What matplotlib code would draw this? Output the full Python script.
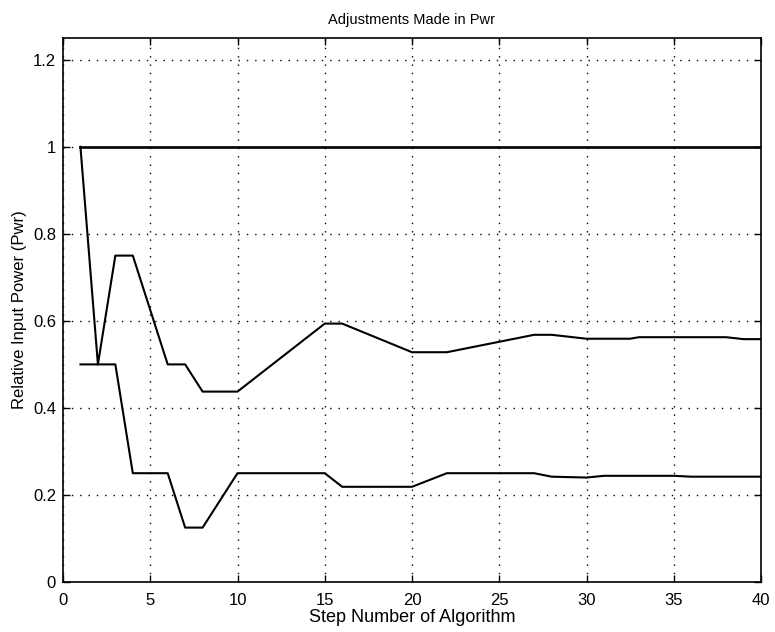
import matplotlib
matplotlib.use("Agg")
import matplotlib.pyplot as plt

plt.rcParams['font.family'] = ['Liberation Sans', 'DejaVu Sans']

# Data (breakpoints)
top_x = [1, 40]
top_y = [1.0, 1.0]

mid_x = [1, 2, 3, 4, 6, 7, 8, 10, 15, 16, 20, 22, 27, 28, 30, 32.5, 33, 38, 39, 40]
mid_y = [1.0, 0.5, 0.75, 0.75, 0.5, 0.5, 0.4375, 0.4375, 0.59375, 0.59375,
         0.528, 0.528, 0.568, 0.568, 0.559, 0.559, 0.5625, 0.5625, 0.558, 0.558]

low_x = [1, 3, 4, 6, 7, 8, 10, 15, 16, 20, 22, 27, 28, 30, 31, 35, 36, 40]
low_y = [0.5, 0.5, 0.25, 0.25, 0.125, 0.125, 0.25, 0.25, 0.21875, 0.21875,
         0.25, 0.25, 0.242, 0.240, 0.244, 0.244, 0.242, 0.242]

x_ticks = [0, 5, 10, 15, 20, 25, 30, 35, 40]
y_ticks = [0, 0.2, 0.4, 0.6, 0.8, 1.0, 1.2]
y_tick_labels = ['0', '0.2', '0.4', '0.6', '0.8', '1', '1.2']

fig = plt.figure(figsize=(7.75, 6.32), dpi=100)
ax = fig.add_axes([63/775, 1-582/632, (761-63)/775, (582-38)/632])

ax.plot(top_x, top_y, color='black', lw=1.9)
ax.plot(mid_x, mid_y, color='black', lw=1.5)
ax.plot(low_x, low_y, color='black', lw=1.5)

ax.set_xlim(0, 40)
ax.set_ylim(0, 1.25)
ax.set_xticks(x_ticks)
ax.set_yticks(y_ticks)
ax.set_yticklabels(y_tick_labels)
ax.grid(True, color='black', linestyle=(0, (1, 5)), linewidth=1.0)
ax.tick_params(direction='in', top=True, right=True, length=5, labelsize=12, width=1)
ax.tick_params(axis='x', pad=8)
ax.tick_params(axis='y', pad=5)
for s in ax.spines.values():
    s.set_linewidth(1.2)

ax.set_title('Adjustments Made in Pwr', fontsize=10.5, pad=10)
ax.set_xlabel('Step Number of Algorithm', fontsize=13, labelpad=1)
ax.set_ylabel('Relative Input Power (Pwr)', fontsize=12, labelpad=4)

fig.savefig('out.png', dpi=100)
